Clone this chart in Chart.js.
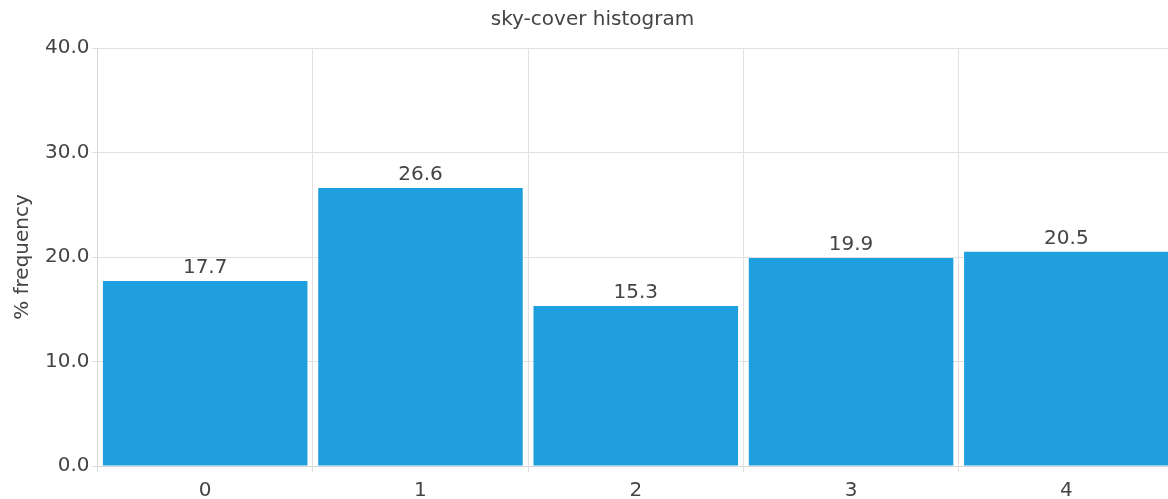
<!DOCTYPE html>
<html>
<head>
<meta charset="utf-8">
<script src="https://cdn.jsdelivr.net/npm/chart.js@4"></script>
<style>
  html, body { margin: 0; padding: 0; overflow: hidden; background: #fff; }
  .frame { width: 1168px; height: 499px; overflow: hidden; position: relative; }
  .frame canvas { position: absolute; left: 0; top: 0; }
</style>
</head>
<body>
<div class="frame"><canvas id="chart" width="1174" height="510"></canvas></div>
<script>
const categories = ['0', '1', '2', '3', '4'];
const frequency = [17.7, 26.6, 15.3, 19.9, 20.5];
const yTicks = [0, 10, 20, 30, 40];

// values above each bar
const barLabels = {
    id: 'barLabels',
    afterDatasetsDraw(chart) {
        const ctx = chart.ctx;
        const meta = chart.getDatasetMeta(0);
        ctx.save();
        ctx.font = '20px "DejaVu Sans"';
        ctx.fillStyle = '#444';
        ctx.textAlign = 'center';
        ctx.textBaseline = 'bottom';
        meta.data.forEach((bar, i) => {
            ctx.fillText(frequency[i].toFixed(1), bar.x, bar.y - 3);
        });
        ctx.restore();
    }
};

const data = {
    labels: categories,
    datasets: [{
        data: frequency,
        backgroundColor: 'rgb(32,159,222)',
        borderWidth: 0,
        barPercentage: 0.95,
        categoryPercentage: 1.0
    }]
};

const config = {
    type: 'bar',
    data: data,
    options: {
        responsive: false,
        animation: false,
        layout: { padding: { top: 0, right: 0, left: 11, bottom: 0 } },
        plugins: {
            legend: { display: false },
            tooltip: { enabled: false },
            title: {
                display: true,
                text: 'sky-cover histogram',
                color: '#444',
                font: { family: 'DejaVu Sans', size: 20, weight: 'normal' },
                padding: { top: 8, bottom: 16 }
            }
        },
        scales: {
            x: {
                grid: { color: '#e0e0e0', offset: true, tickLength: 6 },
                border: { color: '#d8d8d8' },
                ticks: { color: '#444', font: { family: 'DejaVu Sans', size: 20 }, padding: 7 }
            },
            y: {
                min: 0,
                max: 40,
                afterBuildTicks(axis) {
                    axis.ticks = yTicks.map(v => ({ value: v }));
                },
                grid: { color: '#e0e0e0', tickLength: 6 },
                border: { color: '#d8d8d8' },
                ticks: {
                    color: '#444',
                    font: { family: 'DejaVu Sans', size: 20 },
                    padding: 2,
                    callback: v => v.toFixed(1)
                },
                title: {
                    display: true,
                    text: '% frequency',
                    color: '#444',
                    font: { family: 'DejaVu Sans', size: 20 },
                    padding: { top: 0, bottom: 8 }
                }
            }
        }
    },
    plugins: [barLabels]
};

const chart = new Chart(document.getElementById('chart'), config);
</script>
</body>
</html>
